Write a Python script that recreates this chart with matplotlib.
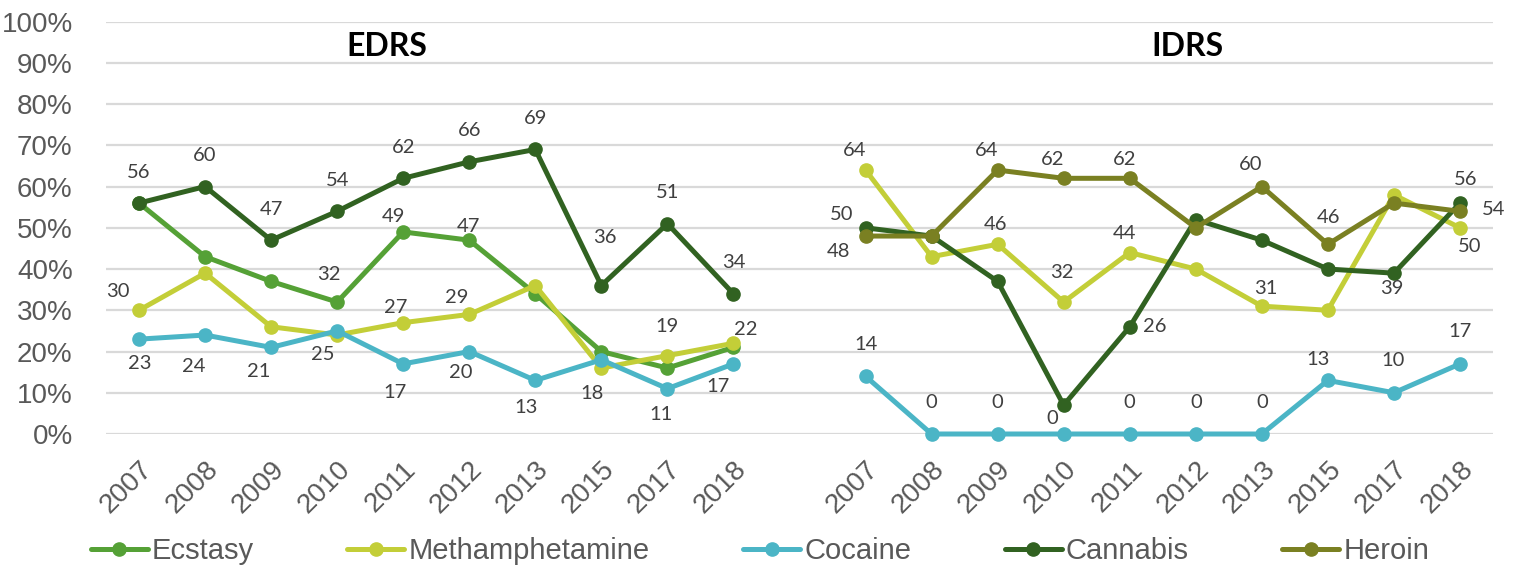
import numpy as np
import matplotlib
matplotlib.use("Agg")
import matplotlib.pyplot as plt
from matplotlib.lines import Line2D

# ---- data -------------------------------------------------------------
years = ["2007", "2008", "2009", "2010", "2011", "2012", "2013", "2015", "2017", "2018"]
panels = ["EDRS", "IDRS"]

edrs_ecstasy = [56, 43, 37, 32, 49, 47, 34, 20, 16, 21]
edrs_meth = [30, 39, 26, 24, 27, 29, 36, 16, 19, 22]
edrs_cocaine = [23, 24, 21, 25, 17, 20, 13, 18, 11, 17]
edrs_cannabis = [56, 60, 47, 54, 62, 66, 69, 36, 51, 34]

idrs_meth = [64, 43, 46, 32, 44, 40, 31, 30, 58, 50]
idrs_cocaine = [14, 0, 0, 0, 0, 0, 0, 13, 10, 17]
idrs_cannabis = [50, 48, 37, 7, 26, 52, 47, 40, 39, 56]
idrs_heroin = [48, 48, 64, 62, 62, 50, 60, 46, 56, 54]

y_ticks = [0, 10, 20, 30, 40, 50, 60, 70, 80, 90, 100]

# ---- styling ------------------------------------------------------------
colors = {
    "Ecstasy": "#55A136",
    "Methamphetamine": "#C3CE38",
    "Cocaine": "#4BB5C6",
    "Cannabis": "#316221",
    "Heroin": "#7A8022",
}

# Data-label placement, (dx, dy) in pixels from the point (dy down);
# series/year combinations not listed carry no label.
label_offsets = {
    ("EDRS", "Ecstasy"): {3: (-8, -28), 4: (-10, -15), 5: (-1, -14)},
    ("EDRS", "Methamphetamine"): {0: (-21, -19), 4: (-8, -15), 5: (-13, -17),
                                  8: (0, -29), 9: (12, -14)},
    ("EDRS", "Cocaine"): {0: (1, 24), 1: (-11, 31), 2: (-12, 24), 3: (-14, 24),
                          4: (-8, 29), 5: (-9, 21), 6: (-9, 27), 7: (-9, 34),
                          8: (-6, 26), 9: (-15, 23)},
    ("EDRS", "Cannabis"): {0: (0, -31), 1: (0, -31), 2: (0, -31), 3: (0, -31),
                           4: (0, -31), 5: (0, -31), 6: (0, -31), 7: (4, -48),
                           8: (0, -31), 9: (0, -31)},
    ("IDRS", "Methamphetamine"): {0: (-11, -20), 2: (-2, -20), 3: (-2, -30),
                                  4: (-5, -19), 6: (4, -18), 9: (10, 19)},
    ("IDRS", "Cocaine"): {0: (0, -32), 1: (0, -31), 2: (0, -31), 3: (-11, -16),
                          4: (0, -31), 5: (0, -31), 6: (0, -31), 7: (-10, -21),
                          8: (-1, -32), 9: (0, -32)},
    ("IDRS", "Cannabis"): {0: (-24, -13), 4: (25, 0), 8: (-2, 15), 9: (6, -24)},
    ("IDRS", "Heroin"): {0: (-27, 15), 2: (-11, -20), 3: (-11, -19), 4: (-5, -19),
                         6: (-11, -22), 7: (1, -27), 9: (34, -2)},
}

W, H, DPI = 1523, 569, 100
fig = plt.figure(figsize=(W / DPI, H / DPI), dpi=DPI)
ax = fig.add_axes([106 / W, 1 - 434 / H, (1493 - 106) / W, (434 - 21.6) / H])

n = len(years)
gap = np.full(1, np.nan)
blank = np.full(n + 1, np.nan)


def joined(left, right):
    """Lay the EDRS block, a blank slot, and the IDRS block on one axis."""
    l = blank[:n] if left is None else np.asarray(left, float)
    r = blank[:n] if right is None else np.asarray(right, float)
    return np.concatenate([l, gap, r])


series = {
    "Ecstasy": joined(edrs_ecstasy, None),
    "Methamphetamine": joined(edrs_meth, idrs_meth),
    "Cocaine": joined(edrs_cocaine, idrs_cocaine),
    "Cannabis": joined(edrs_cannabis, idrs_cannabis),
    "Heroin": joined(None, idrs_heroin),
}
x = np.arange(2 * n + 1)

for name, vals in series.items():
    ax.plot(x, vals, color=colors[name], lw=3.6, marker="o", ms=9.5,
            solid_capstyle="round", clip_on=False, zorder=3)

PX = 72 / DPI
label_font = dict(family=["Lato", "DejaVu Sans"], size=14.5, color="#404040")
for (panel, name), offs in label_offsets.items():
    base = 0 if panel == "EDRS" else n + 1
    for i, (dx, dy) in offs.items():
        v = series[name][base + i]
        ax.annotate(f"{v:.0f}", (base + i, v), xytext=(dx * PX, -dy * PX),
                    textcoords="offset points", ha="center", va="center",
                    zorder=5, **label_font)

# axes
ax.set_xlim(-0.5, 2 * n + 0.5)
ax.set_ylim(0, 100)
ax.set_yticks(y_ticks)
ax.set_yticklabels([f"{t}%" for t in y_ticks], family="Liberation Sans",
                   size=20, color="#595959")
tick_pos = [i for i in x if i != n]
ax.set_xticks(tick_pos)
ax.set_xticklabels(years + years, family="Liberation Sans", size=20,
                   color="#595959", rotation=45, ha="right",
                   rotation_mode="anchor")
ax.tick_params(axis="both", length=0)
ax.tick_params(axis="y", pad=24)
ax.tick_params(axis="x", pad=16)
for s in ax.spines.values():
    s.set_visible(False)
ax.grid(axis="y", color="#D9D9D9", lw=1.6, zorder=0)
ax.set_axisbelow(True)

# panel titles
for title, cx in zip(panels, [387, 1187]):
    fig.text(cx / W, 1 - 47 / H, title, ha="center", va="center",
             family=["Lato", "DejaVu Sans"], weight="bold", size=23,
             color="black")

# legend
handles = [Line2D([], [], color=colors[k], lw=3.6, marker="o", ms=9.5,
                  solid_capstyle="round") for k in series]
leg = fig.legend(handles, list(series), loc="center",
                 bbox_to_anchor=(760 / W, 1 - 551 / H), ncol=5, frameon=False,
                 prop=dict(family="Liberation Sans", size=21),
                 handlelength=1.95, handletextpad=0.15, columnspacing=3.2,
                 borderaxespad=0, borderpad=0)
for t in leg.get_texts():
    t.set_color("#595959")

fig.savefig("out.png", dpi=DPI)
